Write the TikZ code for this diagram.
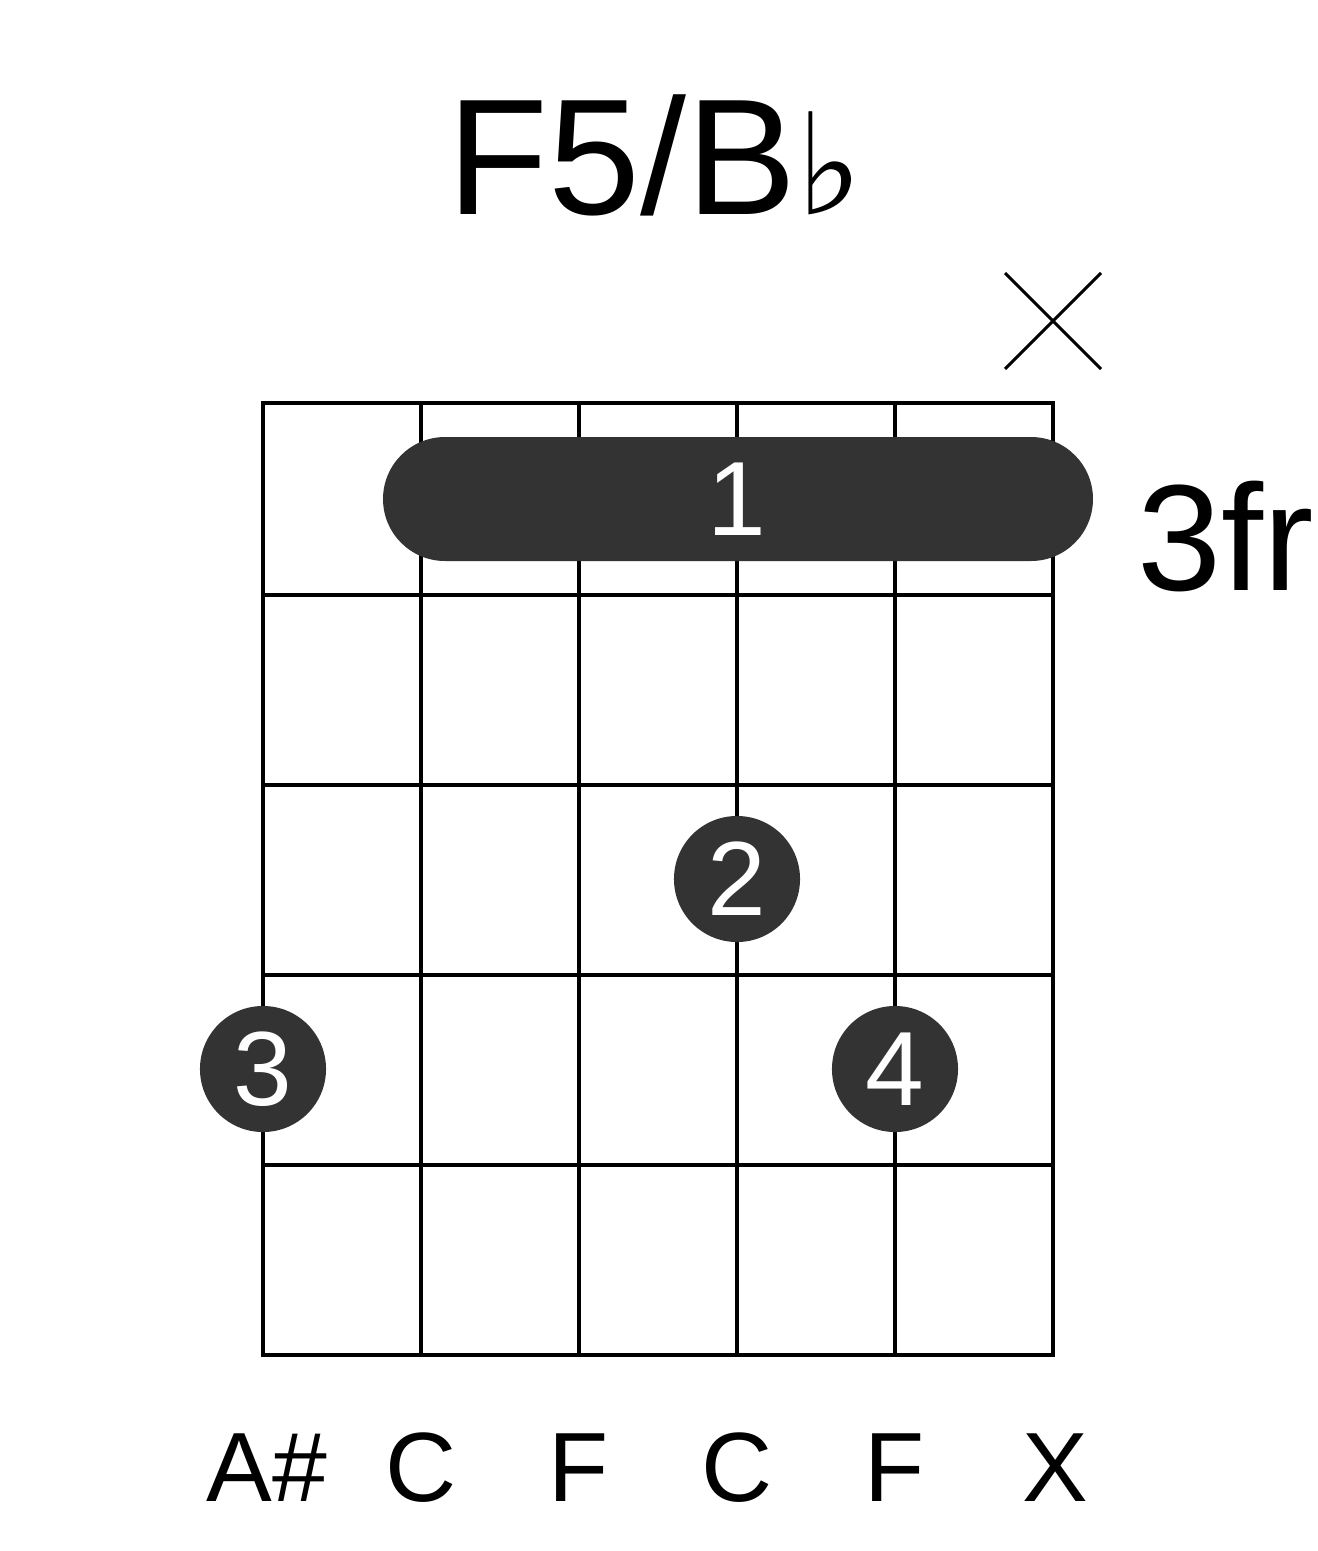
\documentclass[tikz,border=0pt]{standalone}
\usepackage{fontspec}
\setmainfont{Liberation Sans}
\newfontfamily\djv{DejaVu Sans}
\definecolor{dot}{HTML}{333333}
\begin{document}
\begin{tikzpicture}[x=0.01cm,y=-0.01cm,
  gridline/.style={line width=4.5pt*0.2845},
  fing/.style={circle,fill=dot,minimum size=126*0.2845pt,inner sep=0pt,text=white,font=\fontsize{30}{30}\selectfont},
  lab/.style={font=\fontsize{28}{28}\selectfont}]
\useasboundingbox (0,0) rectangle (1317,1551);
\foreach \x in {263,421,579,737,895,1053} \draw[gridline] (\x,403) -- (\x,1355);
\foreach \y in {403,595,785,975,1165,1355} \draw[gridline] (261,\y) -- (1055,\y);
\fill[dot,rounded corners=62*0.2845pt] (383,437) rectangle (1093,561);
\node[text=white,font=\fontsize{30}{30}\selectfont] (b1) at (737,499) {1};
\node[fing] (f2) at (737,879) {2};
\node[fing] (f3) at (263,1069) {3};
\node[fing] (f4) at (895,1069) {4};
\draw[line width=3*0.2845pt] (1005,273) -- (1101,369) (1005,369) -- (1101,273);
\node[font=\fontsize{47}{47}\selectfont] (title) at (655,155) {F5/B{\djv\fontsize{40}{40}\selectfont ♭}};
\node[font=\fontsize{43}{43}\selectfont,anchor=west] (fr) at (1125,537) {3fr};
\foreach \x/\t in {267/A\#,421/C,579/F,737/C,895/F,1055/X}
  \node[lab] at (\x,1468) {\t};
\end{tikzpicture}
\end{document}
